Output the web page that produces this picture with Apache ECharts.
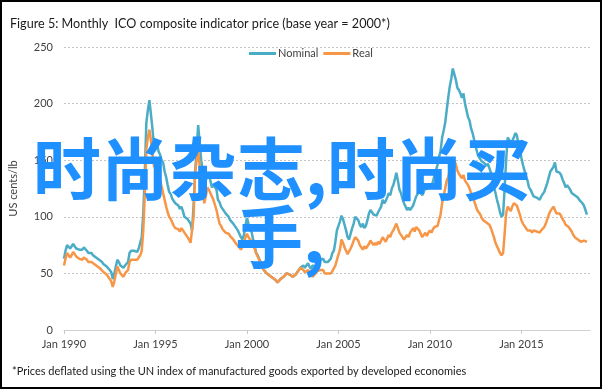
<!DOCTYPE html>
<html>
<head>
<meta charset="utf-8">
<script src="https://cdn.jsdelivr.net/npm/echarts@6/dist/echarts.min.js"></script>
<style>html,body{margin:0;padding:0;background:#fff;}#c{width:604px;height:390px;}</style>
</head>
<body>
<div id="c"></div>
<script>
// Monthly values, Jan 1990 .. Aug 2018 (US cents/lb)
const START_YEAR = 1990;
const NOMINAL = [
  63, 70, 75, 74, 72, 74, 76, 74, 72, 73, 71, 72,
  71, 73, 72, 70, 68, 69, 68, 66, 65, 64, 63, 62,
  61, 60, 58, 57, 56, 55, 53, 51, 45, 50, 56, 62,
  60, 57, 56, 55, 57, 56, 60, 68, 70, 71, 70, 69,
  69, 72, 77, 82, 103, 139, 183, 194, 203, 191, 178, 162,
  166, 164, 158, 155, 150, 148, 140, 135, 128, 122, 120, 116,
  114, 112, 113, 110, 107, 109, 105, 100, 101, 98, 96, 94,
  88, 110, 139, 160, 181, 165, 150, 139, 134, 132, 136, 139,
  132, 126, 128, 129, 124, 115, 113, 109, 107, 106, 103, 104,
  100, 97, 96, 94, 92, 90, 88, 85, 82, 80, 84, 92,
  99, 94, 90, 87, 80, 75, 68, 66, 63, 60, 56, 53,
  52, 50, 49, 48, 47, 46, 45, 44, 42, 43, 45, 46,
  47, 48, 50, 51, 49, 48, 47, 48, 49, 51, 53, 55,
  56, 57, 55, 54, 59, 56, 54, 57, 57, 56, 59, 60,
  62, 61, 63, 60, 59, 60, 61, 63, 68, 70, 78, 88,
  88, 96, 101, 98, 93, 88, 82, 80, 85, 90, 94, 100,
  100, 97, 93, 91, 94, 90, 92, 97, 103, 106, 104, 102,
  103, 101, 104, 103, 109, 115, 112, 114, 117, 121, 119, 125,
  128, 133, 139, 132, 124, 121, 116, 112, 109, 106, 108, 106,
  106, 110, 114, 118, 120, 124, 121, 119, 122, 126, 124, 128,
  126, 128, 131, 137, 141, 146, 153, 158, 170, 176, 183, 194,
  205, 215, 222, 231, 226, 221, 214, 212, 209, 205, 209, 200,
  194, 188, 185, 178, 174, 168, 162, 157, 153, 151, 149, 148,
  147, 145, 147, 143, 139, 134, 126, 121, 115, 110, 104, 100,
  102, 125, 150, 170, 168, 165, 167, 170, 174, 172, 165, 159,
  152, 146, 141, 136, 132, 126, 124, 121, 118, 119, 117, 118,
  115, 118, 119, 122, 126, 130, 135, 140, 142, 144, 148, 140,
  141, 139, 137, 133, 130, 126, 128, 126, 124, 121, 122, 119,
  118, 117, 115, 114, 112, 110, 106, 102
];
const REAL = [
  57, 63, 68, 67, 64, 66, 69, 67, 65, 65, 63, 64,
  62, 64, 64, 62, 60, 61, 60, 59, 58, 57, 56, 55,
  54, 53, 51, 50, 49, 47, 45, 43, 38, 43, 50, 56,
  53, 50, 49, 47, 50, 50, 53, 60, 62, 63, 62, 61,
  62, 64, 66, 70, 88, 120, 160, 170, 177, 168, 156, 145,
  143, 141, 135, 132, 127, 121, 115, 109, 104, 100, 98, 95,
  92, 90, 91, 89, 87, 90, 88, 86, 84, 82, 80, 77,
  77, 100, 139, 150, 159, 145, 132, 122, 112, 118, 126, 124,
  121, 118, 115, 114, 106, 100, 94, 92, 89, 88, 86, 87,
  85, 83, 82, 80, 78, 76, 75, 73, 71, 72, 76, 82,
  85, 82, 80, 78, 75, 72, 68, 65, 62, 59, 56, 53,
  52, 50, 49, 48, 47, 46, 45, 44, 42, 43, 45, 46,
  47, 48, 50, 51, 49, 48, 47, 48, 49, 51, 53, 55,
  54, 53, 51, 50, 53, 51, 49, 47, 48, 50, 52, 51,
  53, 52, 53, 50, 49, 50, 51, 50, 52, 53, 57, 62,
  62, 71, 80, 77, 73, 70, 67, 68, 72, 75, 79, 82,
  82, 79, 75, 73, 71, 74, 72, 74, 76, 79, 77, 75,
  77, 75, 78, 76, 79, 82, 80, 78, 81, 84, 82, 86,
  88, 91, 94, 90, 86, 84, 82, 80, 82, 84, 82, 86,
  88, 90, 87, 91, 90, 88, 85, 82, 84, 86, 83, 86,
  88, 86, 89, 91, 90, 92, 97, 102, 112, 118, 125, 132,
  135, 140, 146, 148, 150, 146, 141, 138, 136, 134, 137, 132,
  132, 128, 125, 121, 118, 114, 110, 106, 104, 102, 99, 97,
  97, 95, 96, 93, 90, 86, 82, 77, 74, 71, 68, 66,
  68, 85, 103, 109, 107, 105, 109, 112, 112, 110, 106, 102,
  97, 94, 92, 90, 88, 87, 88, 86, 88, 89, 87, 88,
  86, 88, 89, 91, 94, 98, 102, 105, 107, 109, 106, 103,
  104, 103, 101, 98, 96, 93, 92, 91, 89, 87, 84, 82,
  81, 80, 79, 78, 78, 79, 78, 78
];
const TICK_MONTHS = [0, 60, 120, 180, 240, 300];
const TICK_LABELS = ['Jan 1990', 'Jan 1995', 'Jan 2000', 'Jan 2005', 'Jan 2010', 'Jan 2015'];
const Y_TICKS = [0, 50, 100, 150, 200, 250];

const chart = echarts.init(document.getElementById('c'), null, {renderer: 'canvas'});
const FONT = 'Lato';
const labelMap = {};
TICK_MONTHS.forEach((m, i) => labelMap[m] = TICK_LABELS[i]);

chart.setOption({
  animation: false,
  backgroundColor: '#ffffff',
  textStyle: {fontFamily: FONT},
  title: {
    text: 'Figure 5: Monthly  ICO composite indicator price (base year = 2000*)',
    left: 5, top: 12,
    textStyle: {fontFamily: FONT, fontSize: 12.6, fontWeight: 'normal', color: '#1a1a1a'}
  },
  legend: {
    data: ['Nominal', 'Real'],
    left: 249, top: 48,
    icon: 'rect', itemWidth: 27, itemHeight: 3, itemGap: 5,
    padding: 0,
    textStyle: {fontFamily: FONT, fontSize: 11, color: '#404040', padding: [0, 0, 0, -3]}
  },
  grid: {left: 64, right: 14, top: 47, bottom: 60, containLabel: false},
  xAxis: {
    type: 'value', min: 0, max: 345, interval: 60,
    splitLine: {show: false},
    axisLine: {show: true, lineStyle: {color: '#d0d0d0', width: 1}},
    axisTick: {show: true, length: 4, lineStyle: {color: '#c8c8c8'}, customValues: TICK_MONTHS},
    axisLabel: {
      customValues: TICK_MONTHS,
      formatter: v => labelMap[v] || '',
      fontFamily: FONT, fontSize: 11, color: '#404040', margin: 9
    }
  },
  yAxis: {
    type: 'value', min: Y_TICKS[0], max: Y_TICKS[Y_TICKS.length - 1], interval: 50,
    name: 'US cents/lb', nameLocation: 'middle', nameGap: 45, nameRotate: 90,
    nameTextStyle: {fontFamily: FONT, fontSize: 11, color: '#404040'},
    axisLine: {show: false}, axisTick: {show: false},
    axisLabel: {fontFamily: FONT, fontSize: 11, color: '#404040', margin: 11},
    splitLine: {show: true, lineStyle: {color: '#c4c4c4', type: [2, 2], width: 1}}
  },
  series: [
    {
      name: 'Nominal', type: 'line', symbol: 'none', z: 2,
      data: NOMINAL.map((v, i) => [i, v]),
      lineStyle: {color: '#4bacc6', width: 2.5},
      itemStyle: {color: '#4bacc6'}
    },
    {
      name: 'Real', type: 'line', symbol: 'none', z: 3,
      data: REAL.map((v, i) => [i, v]),
      lineStyle: {color: '#f79646', width: 2.5},
      itemStyle: {color: '#f79646'}
    }
  ],
  graphic: [
    {
      type: 'text', left: 12, top: 366, z: 10,
      style: {text: '*Prices deflated using the UN index of manufactured goods exported by developed economies',
        font: '11px Lato', fill: '#1a1a1a'}
    },
    {
      type: 'text', x: 282, y: 169, z: 100,
      style: {text: '时尚杂志,时尚买', font: 'bold 68px "Noto Sans CJK SC"', fill: '#1e90ff',
        textAlign: 'center', textVerticalAlign: 'middle'}
    },
    {
      type: 'text', x: 280, y: 237, z: 100,
      style: {text: '手,', font: 'bold 68px "Noto Sans CJK SC"', fill: '#1e90ff',
        textAlign: 'center', textVerticalAlign: 'middle'}
    },
    {
      type: 'rect', z: 100, silent: true,
      shape: {x: 1, y: 1, width: 600, height: 387},
      style: {fill: 'none', stroke: '#000', lineWidth: 2}
    }
  ]
});
</script>
</body>
</html>
